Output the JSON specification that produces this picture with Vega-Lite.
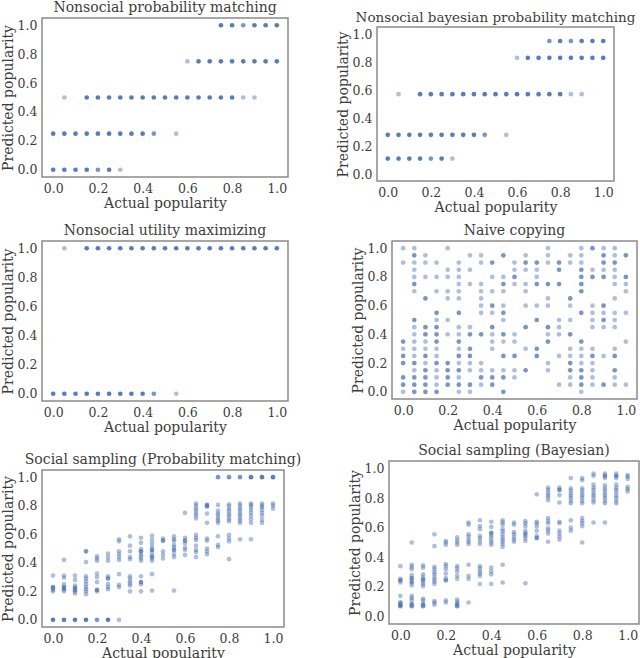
{
"$schema": "https://vega.github.io/schema/vega-lite/v6.json",
"padding": 0,
"background": "white",
"config": {
  "font": "DejaVu Serif",
  "view": {"stroke": "#8a8a8a", "strokeWidth": 1.5},
  "axis": {"grid": false, "ticks": false, "tickSize": 0, "domain": false, "labelFont": "DejaVu Serif", "labelFontSize": 12.5, "labelColor": "#3d3d3d", "titleFont": "DejaVu Serif", "titleFontSize": 14, "titleFontWeight": "normal", "titleColor": "#3d3d3d"},
  "axisX": {"labelPadding": 5, "titlePadding": 2},
  "axisY": {"labelPadding": 5, "titlePadding": 2},
  "title": {"font": "DejaVu Serif", "fontSize": 14, "fontWeight": "normal", "color": "#3d3d3d", "offset": 3, "frame": "group", "anchor": "middle"},
  "point": {"filled": true, "size": 22, "color": "#4c72b0", "strokeWidth": 0}
},
"datasets": {
"p1": [
{"x":0.75,"y":1,"n":3},{"x":0.8,"y":1,"n":3},{"x":0.85,"y":1,"n":2},{"x":0.9,"y":1,"n":3},{"x":0.95,"y":1,"n":3},{"x":1,"y":1,"n":3},
{"x":0.6,"y":0.75,"n":1},{"x":0.65,"y":0.75,"n":3},{"x":0.7,"y":0.75,"n":3},{"x":0.75,"y":0.75,"n":3},{"x":0.8,"y":0.75,"n":3},{"x":0.85,"y":0.75,"n":3},{"x":0.9,"y":0.75,"n":3},{"x":0.95,"y":0.75,"n":3},{"x":1,"y":0.75,"n":3},
{"x":0.05,"y":0.5,"n":1},{"x":0.15,"y":0.5,"n":3},{"x":0.2,"y":0.5,"n":3},{"x":0.25,"y":0.5,"n":3},{"x":0.3,"y":0.5,"n":3},{"x":0.35,"y":0.5,"n":3},{"x":0.4,"y":0.5,"n":3},{"x":0.45,"y":0.5,"n":3},{"x":0.5,"y":0.5,"n":3},{"x":0.55,"y":0.5,"n":3},{"x":0.6,"y":0.5,"n":3},{"x":0.65,"y":0.5,"n":3},{"x":0.7,"y":0.5,"n":3},{"x":0.75,"y":0.5,"n":3},{"x":0.8,"y":0.5,"n":3},{"x":0.85,"y":0.5,"n":1},{"x":0.9,"y":0.5,"n":1},
{"x":0,"y":0.25,"n":3},{"x":0.05,"y":0.25,"n":3},{"x":0.1,"y":0.25,"n":3},{"x":0.15,"y":0.25,"n":3},{"x":0.2,"y":0.25,"n":3},{"x":0.25,"y":0.25,"n":3},{"x":0.3,"y":0.25,"n":3},{"x":0.35,"y":0.25,"n":3},{"x":0.4,"y":0.25,"n":3},{"x":0.45,"y":0.25,"n":2},{"x":0.55,"y":0.25,"n":1},
{"x":0,"y":0,"n":3},{"x":0.05,"y":0,"n":3},{"x":0.1,"y":0,"n":3},{"x":0.15,"y":0,"n":3},{"x":0.2,"y":0,"n":2},{"x":0.25,"y":0,"n":3},{"x":0.3,"y":0,"n":1}
],
"p2": [
{"x":0.75,"y":0.95,"n":2},{"x":0.8,"y":0.95,"n":3},{"x":0.85,"y":0.95,"n":2},{"x":0.9,"y":0.95,"n":3},{"x":0.95,"y":0.95,"n":3},{"x":1,"y":0.95,"n":3},
{"x":0.6,"y":0.83,"n":1},{"x":0.65,"y":0.83,"n":3},{"x":0.7,"y":0.83,"n":3},{"x":0.75,"y":0.83,"n":3},{"x":0.8,"y":0.83,"n":3},{"x":0.85,"y":0.83,"n":3},{"x":0.9,"y":0.83,"n":3},{"x":0.95,"y":0.83,"n":3},{"x":1,"y":0.83,"n":3},
{"x":0.05,"y":0.57,"n":1},{"x":0.15,"y":0.57,"n":3},{"x":0.2,"y":0.57,"n":3},{"x":0.25,"y":0.57,"n":3},{"x":0.3,"y":0.57,"n":3},{"x":0.35,"y":0.57,"n":3},{"x":0.4,"y":0.57,"n":3},{"x":0.45,"y":0.57,"n":3},{"x":0.5,"y":0.57,"n":3},{"x":0.55,"y":0.57,"n":3},{"x":0.6,"y":0.57,"n":3},{"x":0.65,"y":0.57,"n":3},{"x":0.7,"y":0.57,"n":3},{"x":0.75,"y":0.57,"n":3},{"x":0.8,"y":0.57,"n":3},{"x":0.85,"y":0.57,"n":1},{"x":0.9,"y":0.57,"n":1},
{"x":0,"y":0.28,"n":3},{"x":0.05,"y":0.28,"n":3},{"x":0.1,"y":0.28,"n":3},{"x":0.15,"y":0.28,"n":3},{"x":0.2,"y":0.28,"n":3},{"x":0.25,"y":0.28,"n":3},{"x":0.3,"y":0.28,"n":3},{"x":0.35,"y":0.28,"n":3},{"x":0.4,"y":0.28,"n":3},{"x":0.45,"y":0.28,"n":2},{"x":0.55,"y":0.28,"n":1},
{"x":0,"y":0.11,"n":3},{"x":0.05,"y":0.11,"n":3},{"x":0.1,"y":0.11,"n":3},{"x":0.15,"y":0.11,"n":3},{"x":0.2,"y":0.11,"n":2},{"x":0.25,"y":0.11,"n":3},{"x":0.3,"y":0.11,"n":1}
],
"p3": [
{"x":0.05,"y":1,"n":1},{"x":0.15,"y":1,"n":3},{"x":0.2,"y":1,"n":3},{"x":0.25,"y":1,"n":3},{"x":0.3,"y":1,"n":3},{"x":0.35,"y":1,"n":3},{"x":0.4,"y":1,"n":3},{"x":0.45,"y":1,"n":3},{"x":0.5,"y":1,"n":3},{"x":0.55,"y":1,"n":3},{"x":0.6,"y":1,"n":3},{"x":0.65,"y":1,"n":3},{"x":0.7,"y":1,"n":3},{"x":0.75,"y":1,"n":3},{"x":0.8,"y":1,"n":3},{"x":0.85,"y":1,"n":3},{"x":0.9,"y":1,"n":3},{"x":0.95,"y":1,"n":3},{"x":1,"y":1,"n":3},
{"x":0,"y":0,"n":3},{"x":0.05,"y":0,"n":3},{"x":0.1,"y":0,"n":3},{"x":0.15,"y":0,"n":3},{"x":0.2,"y":0,"n":3},{"x":0.25,"y":0,"n":3},{"x":0.3,"y":0,"n":3},{"x":0.35,"y":0,"n":3},{"x":0.4,"y":0,"n":3},{"x":0.45,"y":0,"n":2},{"x":0.55,"y":0,"n":1}
],
"p4": [
{"x":0,"y":1,"n":1},{"x":0.05,"y":1,"n":1},{"x":0.2,"y":1,"n":1},{"x":0.65,"y":1,"n":1},{"x":0.8,"y":1,"n":1},{"x":0.85,"y":1,"n":2},{"x":0.9,"y":1,"n":1},{"x":0.95,"y":1,"n":1},
{"x":0.05,"y":0.95,"n":2},{"x":0.1,"y":0.95,"n":1},{"x":0.3,"y":0.95,"n":1},{"x":0.35,"y":0.95,"n":1},{"x":0.45,"y":0.95,"n":2},{"x":0.55,"y":0.95,"n":1},{"x":0.65,"y":0.95,"n":1},{"x":0.75,"y":0.95,"n":1},{"x":0.8,"y":0.95,"n":1},{"x":0.9,"y":0.95,"n":2},{"x":0.95,"y":0.95,"n":1},{"x":1,"y":0.95,"n":2},
{"x":0,"y":0.9,"n":1},{"x":0.05,"y":0.9,"n":1},{"x":0.1,"y":0.9,"n":1},{"x":0.15,"y":0.9,"n":1},{"x":0.25,"y":0.9,"n":1},{"x":0.35,"y":0.9,"n":1},{"x":0.4,"y":0.9,"n":2},{"x":0.5,"y":0.9,"n":1},{"x":0.55,"y":0.9,"n":2},{"x":0.6,"y":0.9,"n":2},{"x":0.65,"y":0.9,"n":1},{"x":0.7,"y":0.9,"n":2},{"x":0.75,"y":0.9,"n":1},{"x":0.8,"y":0.9,"n":1},{"x":0.9,"y":0.9,"n":2},{"x":0.95,"y":0.9,"n":2},
{"x":0.05,"y":0.85,"n":1},{"x":0.2,"y":0.85,"n":1},{"x":0.25,"y":0.85,"n":1},{"x":0.3,"y":0.85,"n":1},{"x":0.5,"y":0.85,"n":1},{"x":0.55,"y":0.85,"n":1},{"x":0.6,"y":0.85,"n":1},{"x":0.7,"y":0.85,"n":2},{"x":0.8,"y":0.85,"n":2},{"x":0.85,"y":0.85,"n":1},{"x":0.9,"y":0.85,"n":1},{"x":0.95,"y":0.85,"n":1},
{"x":0.05,"y":0.8,"n":1},{"x":0.1,"y":0.8,"n":1},{"x":0.15,"y":0.8,"n":1},{"x":0.2,"y":0.8,"n":1},{"x":0.25,"y":0.8,"n":1},{"x":0.4,"y":0.8,"n":1},{"x":0.45,"y":0.8,"n":1},{"x":0.5,"y":0.8,"n":2},{"x":0.6,"y":0.8,"n":1},{"x":0.8,"y":0.8,"n":2},{"x":0.85,"y":0.8,"n":2},{"x":0.9,"y":0.8,"n":2},{"x":0.95,"y":0.8,"n":1},{"x":1,"y":0.8,"n":2},
{"x":0.05,"y":0.75,"n":2},{"x":0.25,"y":0.75,"n":1},{"x":0.3,"y":0.75,"n":1},{"x":0.35,"y":0.75,"n":1},{"x":0.45,"y":0.75,"n":2},{"x":0.5,"y":0.75,"n":1},{"x":0.55,"y":0.75,"n":1},{"x":0.6,"y":0.75,"n":2},{"x":0.65,"y":0.75,"n":2},{"x":0.7,"y":0.75,"n":2},{"x":0.8,"y":0.75,"n":2},{"x":0.95,"y":0.75,"n":1},{"x":1,"y":0.75,"n":1},
{"x":0.05,"y":0.7,"n":1},{"x":0.15,"y":0.7,"n":1},{"x":0.2,"y":0.7,"n":1},{"x":0.25,"y":0.7,"n":1},{"x":0.35,"y":0.7,"n":1},{"x":0.4,"y":0.7,"n":1},{"x":0.45,"y":0.7,"n":1},{"x":0.55,"y":0.7,"n":1},{"x":0.8,"y":0.7,"n":2},{"x":1,"y":0.7,"n":1},
{"x":0.1,"y":0.65,"n":2},{"x":0.2,"y":0.65,"n":1},{"x":0.25,"y":0.65,"n":1},{"x":0.35,"y":0.65,"n":1},{"x":0.65,"y":0.65,"n":1},{"x":0.75,"y":0.65,"n":2},{"x":0.95,"y":0.65,"n":1},
{"x":0.35,"y":0.6,"n":1},{"x":0.4,"y":0.6,"n":2},{"x":0.45,"y":0.6,"n":1},{"x":0.55,"y":0.6,"n":1},{"x":0.6,"y":0.6,"n":1},{"x":0.65,"y":0.6,"n":1},{"x":0.75,"y":0.6,"n":1},{"x":0.85,"y":0.6,"n":1},{"x":0.9,"y":0.6,"n":2},
{"x":0.15,"y":0.55,"n":2},{"x":0.25,"y":0.55,"n":2},{"x":0.35,"y":0.55,"n":1},{"x":0.4,"y":0.55,"n":1},{"x":0.45,"y":0.55,"n":2},{"x":0.8,"y":0.55,"n":2},{"x":0.85,"y":0.55,"n":1},{"x":0.9,"y":0.55,"n":1},{"x":0.95,"y":0.55,"n":1},{"x":1,"y":0.55,"n":1},
{"x":0.05,"y":0.5,"n":2},{"x":0.15,"y":0.5,"n":1},{"x":0.2,"y":0.5,"n":1},{"x":0.45,"y":0.5,"n":1},{"x":0.6,"y":0.5,"n":2},{"x":0.7,"y":0.5,"n":1},{"x":0.75,"y":0.5,"n":1},{"x":0.85,"y":0.5,"n":1},{"x":0.9,"y":0.5,"n":2},{"x":0.95,"y":0.5,"n":1},
{"x":0.05,"y":0.45,"n":1},{"x":0.1,"y":0.45,"n":2},{"x":0.15,"y":0.45,"n":2},{"x":0.25,"y":0.45,"n":1},{"x":0.3,"y":0.45,"n":1},{"x":0.4,"y":0.45,"n":2},{"x":0.55,"y":0.45,"n":2},{"x":0.65,"y":0.45,"n":2},{"x":0.7,"y":0.45,"n":1},{"x":0.85,"y":0.45,"n":1},{"x":0.9,"y":0.45,"n":1},{"x":0.95,"y":0.45,"n":1},
{"x":0.05,"y":0.4,"n":1},{"x":0.1,"y":0.4,"n":2},{"x":0.15,"y":0.4,"n":2},{"x":0.2,"y":0.4,"n":1},{"x":0.25,"y":0.4,"n":1},{"x":0.3,"y":0.4,"n":2},{"x":0.35,"y":0.4,"n":2},{"x":0.4,"y":0.4,"n":1},{"x":0.45,"y":0.4,"n":2},{"x":0.5,"y":0.4,"n":1},{"x":0.65,"y":0.4,"n":1},{"x":0.7,"y":0.4,"n":1},{"x":0.75,"y":0.4,"n":2},
{"x":0,"y":0.35,"n":2},{"x":0.05,"y":0.35,"n":1},{"x":0.1,"y":0.35,"n":1},{"x":0.15,"y":0.35,"n":2},{"x":0.25,"y":0.35,"n":2},{"x":0.4,"y":0.35,"n":1},{"x":0.45,"y":0.35,"n":1},{"x":0.5,"y":0.35,"n":1},{"x":0.65,"y":0.35,"n":2},{"x":0.8,"y":0.35,"n":2},{"x":1,"y":0.35,"n":1},
{"x":0,"y":0.3,"n":1},{"x":0.05,"y":0.3,"n":1},{"x":0.1,"y":0.3,"n":1},{"x":0.15,"y":0.3,"n":1},{"x":0.25,"y":0.3,"n":1},{"x":0.3,"y":0.3,"n":2},{"x":0.4,"y":0.3,"n":1},{"x":0.55,"y":0.3,"n":1},{"x":0.6,"y":0.3,"n":2},{"x":0.75,"y":0.3,"n":1},{"x":0.8,"y":0.3,"n":1},{"x":0.85,"y":0.3,"n":1},{"x":0.95,"y":0.3,"n":1},
{"x":0,"y":0.25,"n":2},{"x":0.05,"y":0.25,"n":1},{"x":0.1,"y":0.25,"n":2},{"x":0.15,"y":0.25,"n":1},{"x":0.25,"y":0.25,"n":2},{"x":0.3,"y":0.25,"n":2},{"x":0.45,"y":0.25,"n":2},{"x":0.5,"y":0.25,"n":2},{"x":0.6,"y":0.25,"n":2},{"x":0.7,"y":0.25,"n":1},{"x":0.75,"y":0.25,"n":1},{"x":0.8,"y":0.25,"n":1},{"x":0.85,"y":0.25,"n":2},{"x":0.9,"y":0.25,"n":1},{"x":0.95,"y":0.25,"n":2},
{"x":0,"y":0.2,"n":2},{"x":0.05,"y":0.2,"n":2},{"x":0.1,"y":0.2,"n":1},{"x":0.15,"y":0.2,"n":2},{"x":0.2,"y":0.2,"n":2},{"x":0.25,"y":0.2,"n":1},{"x":0.3,"y":0.2,"n":1},{"x":0.35,"y":0.2,"n":1},{"x":0.65,"y":0.2,"n":1},{"x":0.75,"y":0.2,"n":2},{"x":0.8,"y":0.2,"n":1},{"x":0.85,"y":0.2,"n":1},
{"x":0.05,"y":0.15,"n":1},{"x":0.1,"y":0.15,"n":2},{"x":0.15,"y":0.15,"n":1},{"x":0.2,"y":0.15,"n":2},{"x":0.25,"y":0.15,"n":2},{"x":0.3,"y":0.15,"n":1},{"x":0.35,"y":0.15,"n":1},{"x":0.4,"y":0.15,"n":1},{"x":0.45,"y":0.15,"n":1},{"x":0.5,"y":0.15,"n":1},{"x":0.55,"y":0.15,"n":2},{"x":0.65,"y":0.15,"n":1},{"x":0.75,"y":0.15,"n":2},{"x":0.8,"y":0.15,"n":2},{"x":0.85,"y":0.15,"n":1},{"x":0.95,"y":0.15,"n":2},
{"x":0,"y":0.1,"n":2},{"x":0.05,"y":0.1,"n":2},{"x":0.1,"y":0.1,"n":2},{"x":0.15,"y":0.1,"n":1},{"x":0.2,"y":0.1,"n":2},{"x":0.25,"y":0.1,"n":1},{"x":0.35,"y":0.1,"n":2},{"x":0.4,"y":0.1,"n":2},{"x":0.45,"y":0.1,"n":2},{"x":0.5,"y":0.1,"n":1},{"x":0.75,"y":0.1,"n":1},{"x":0.8,"y":0.1,"n":2},{"x":0.85,"y":0.1,"n":1},{"x":0.95,"y":0.1,"n":1},
{"x":0,"y":0.05,"n":2},{"x":0.05,"y":0.05,"n":2},{"x":0.1,"y":0.05,"n":2},{"x":0.15,"y":0.05,"n":1},{"x":0.2,"y":0.05,"n":2},{"x":0.25,"y":0.05,"n":2},{"x":0.3,"y":0.05,"n":2},{"x":0.35,"y":0.05,"n":1},{"x":0.4,"y":0.05,"n":2},{"x":0.7,"y":0.05,"n":1},{"x":0.75,"y":0.05,"n":1},{"x":0.8,"y":0.05,"n":2},{"x":0.85,"y":0.05,"n":1},{"x":0.9,"y":0.05,"n":2},{"x":0.95,"y":0.05,"n":1},{"x":1,"y":0.05,"n":1},
{"x":0,"y":0,"n":1},{"x":0.05,"y":0,"n":2},{"x":0.1,"y":0,"n":2},{"x":0.15,"y":0,"n":2},{"x":0.25,"y":0,"n":1},{"x":0.3,"y":0,"n":1},{"x":0.45,"y":0,"n":2},{"x":0.8,"y":0,"n":1}
],
"p5": [
{"x":0,"y":0.31,"n":1},{"x":0,"y":0.23,"n":2},{"x":0,"y":0.22,"n":1},{"x":0,"y":0.21,"n":1},{"x":0,"y":0.2,"n":1},{"x":0,"y":0,"n":3},
{"x":0.05,"y":0.42,"n":1},{"x":0.05,"y":0.31,"n":1},{"x":0.05,"y":0.295,"n":1},{"x":0.05,"y":0.25,"n":1},{"x":0.05,"y":0.23,"n":2},{"x":0.05,"y":0.215,"n":2},{"x":0.05,"y":0.2,"n":1},{"x":0.05,"y":0,"n":3},
{"x":0.1,"y":0.31,"n":1},{"x":0.1,"y":0.28,"n":1},{"x":0.1,"y":0.24,"n":1},{"x":0.1,"y":0.225,"n":2},{"x":0.1,"y":0.21,"n":2},{"x":0.1,"y":0.2,"n":1},{"x":0.1,"y":0.185,"n":1},{"x":0.1,"y":0,"n":3},
{"x":0.15,"y":0.48,"n":2},{"x":0.15,"y":0.405,"n":1},{"x":0.15,"y":0.305,"n":1},{"x":0.15,"y":0.29,"n":1},{"x":0.15,"y":0.27,"n":1},{"x":0.15,"y":0.25,"n":1},{"x":0.15,"y":0.23,"n":1},{"x":0.15,"y":0.215,"n":1},{"x":0.15,"y":0.2,"n":1},{"x":0.15,"y":0.18,"n":1},{"x":0.15,"y":0,"n":3},
{"x":0.2,"y":0.445,"n":1},{"x":0.2,"y":0.43,"n":1},{"x":0.2,"y":0.415,"n":1},{"x":0.2,"y":0.325,"n":1},{"x":0.2,"y":0.3,"n":1},{"x":0.2,"y":0.265,"n":1},{"x":0.2,"y":0.21,"n":2},{"x":0.2,"y":0.2,"n":1},{"x":0.2,"y":0,"n":2},
{"x":0.25,"y":0.465,"n":1},{"x":0.25,"y":0.44,"n":1},{"x":0.25,"y":0.415,"n":1},{"x":0.25,"y":0.305,"n":1},{"x":0.25,"y":0.29,"n":2},{"x":0.25,"y":0.25,"n":1},{"x":0.25,"y":0.23,"n":1},{"x":0.25,"y":0.215,"n":1},{"x":0.25,"y":0,"n":3},
{"x":0.3,"y":0.565,"n":1},{"x":0.3,"y":0.55,"n":1},{"x":0.3,"y":0.48,"n":1},{"x":0.3,"y":0.46,"n":1},{"x":0.3,"y":0.44,"n":1},{"x":0.3,"y":0.42,"n":1},{"x":0.3,"y":0.32,"n":1},{"x":0.3,"y":0.245,"n":1},{"x":0.3,"y":0.23,"n":1},{"x":0.3,"y":0,"n":1},
{"x":0.35,"y":0.585,"n":1},{"x":0.35,"y":0.52,"n":1},{"x":0.35,"y":0.48,"n":1},{"x":0.35,"y":0.44,"n":1},{"x":0.35,"y":0.425,"n":1},{"x":0.35,"y":0.305,"n":1},{"x":0.35,"y":0.29,"n":1},{"x":0.35,"y":0.27,"n":1},{"x":0.35,"y":0.255,"n":1},{"x":0.35,"y":0.24,"n":1},{"x":0.35,"y":0.2,"n":1},
{"x":0.4,"y":0.575,"n":1},{"x":0.4,"y":0.54,"n":1},{"x":0.4,"y":0.495,"n":1},{"x":0.4,"y":0.48,"n":2},{"x":0.4,"y":0.46,"n":1},{"x":0.4,"y":0.445,"n":1},{"x":0.4,"y":0.43,"n":1},{"x":0.4,"y":0.415,"n":1},{"x":0.4,"y":0.305,"n":1},{"x":0.4,"y":0.265,"n":2},{"x":0.4,"y":0.25,"n":1},{"x":0.4,"y":0.2,"n":1},
{"x":0.45,"y":0.59,"n":1},{"x":0.45,"y":0.56,"n":1},{"x":0.45,"y":0.535,"n":1},{"x":0.45,"y":0.51,"n":1},{"x":0.45,"y":0.49,"n":2},{"x":0.45,"y":0.47,"n":1},{"x":0.45,"y":0.445,"n":2},{"x":0.45,"y":0.43,"n":1},{"x":0.45,"y":0.415,"n":1},{"x":0.45,"y":0.32,"n":1},{"x":0.45,"y":0.205,"n":1},
{"x":0.5,"y":0.57,"n":1},{"x":0.5,"y":0.555,"n":2},{"x":0.5,"y":0.48,"n":1},{"x":0.5,"y":0.455,"n":1},{"x":0.5,"y":0.43,"n":1},
{"x":0.55,"y":0.585,"n":1},{"x":0.55,"y":0.565,"n":1},{"x":0.55,"y":0.555,"n":1},{"x":0.55,"y":0.525,"n":1},{"x":0.55,"y":0.51,"n":1},{"x":0.55,"y":0.49,"n":2},{"x":0.55,"y":0.46,"n":1},{"x":0.55,"y":0.44,"n":1},{"x":0.55,"y":0.205,"n":1},
{"x":0.6,"y":0.75,"n":1},{"x":0.6,"y":0.575,"n":1},{"x":0.6,"y":0.555,"n":2},{"x":0.6,"y":0.535,"n":1},{"x":0.6,"y":0.505,"n":1},{"x":0.6,"y":0.49,"n":1},{"x":0.6,"y":0.455,"n":1},
{"x":0.65,"y":0.815,"n":1},{"x":0.65,"y":0.8,"n":1},{"x":0.65,"y":0.78,"n":1},{"x":0.65,"y":0.765,"n":1},{"x":0.65,"y":0.745,"n":1},{"x":0.65,"y":0.73,"n":1},{"x":0.65,"y":0.71,"n":1},{"x":0.65,"y":0.595,"n":1},{"x":0.65,"y":0.575,"n":1},{"x":0.65,"y":0.56,"n":1},{"x":0.65,"y":0.52,"n":1},{"x":0.65,"y":0.49,"n":1},{"x":0.65,"y":0.475,"n":1},{"x":0.65,"y":0.44,"n":1},
{"x":0.7,"y":0.805,"n":2},{"x":0.7,"y":0.795,"n":2},{"x":0.7,"y":0.745,"n":1},{"x":0.7,"y":0.68,"n":1},{"x":0.7,"y":0.57,"n":1},{"x":0.7,"y":0.555,"n":1},{"x":0.7,"y":0.5,"n":1},{"x":0.7,"y":0.48,"n":1},{"x":0.7,"y":0.46,"n":1},
{"x":0.75,"y":1,"n":2},{"x":0.75,"y":0.805,"n":1},{"x":0.75,"y":0.765,"n":1},{"x":0.75,"y":0.745,"n":1},{"x":0.75,"y":0.73,"n":1},{"x":0.75,"y":0.71,"n":1},{"x":0.75,"y":0.695,"n":1},{"x":0.75,"y":0.68,"n":1},{"x":0.75,"y":0.585,"n":1},{"x":0.75,"y":0.525,"n":1},{"x":0.75,"y":0.51,"n":1},
{"x":0.8,"y":1,"n":2},{"x":0.8,"y":0.81,"n":1},{"x":0.8,"y":0.795,"n":1},{"x":0.8,"y":0.775,"n":1},{"x":0.8,"y":0.76,"n":1},{"x":0.8,"y":0.74,"n":1},{"x":0.8,"y":0.725,"n":1},{"x":0.8,"y":0.705,"n":1},{"x":0.8,"y":0.69,"n":1},{"x":0.8,"y":0.595,"n":1},{"x":0.8,"y":0.57,"n":1},{"x":0.8,"y":0.55,"n":1},{"x":0.8,"y":0.425,"n":1},
{"x":0.85,"y":1,"n":2},{"x":0.85,"y":0.815,"n":1},{"x":0.85,"y":0.8,"n":1},{"x":0.85,"y":0.78,"n":1},{"x":0.85,"y":0.765,"n":1},{"x":0.85,"y":0.745,"n":1},{"x":0.85,"y":0.73,"n":1},{"x":0.85,"y":0.71,"n":1},{"x":0.85,"y":0.695,"n":1},{"x":0.85,"y":0.68,"n":1},{"x":0.85,"y":0.565,"n":1},
{"x":0.9,"y":1,"n":3},{"x":0.9,"y":0.815,"n":1},{"x":0.9,"y":0.805,"n":1},{"x":0.9,"y":0.79,"n":1},{"x":0.9,"y":0.77,"n":1},{"x":0.9,"y":0.75,"n":1},{"x":0.9,"y":0.73,"n":1},{"x":0.9,"y":0.705,"n":1},{"x":0.9,"y":0.68,"n":1},{"x":0.9,"y":0.565,"n":1},
{"x":0.95,"y":1,"n":3},{"x":0.95,"y":0.815,"n":1},{"x":0.95,"y":0.8,"n":1},{"x":0.95,"y":0.79,"n":1},{"x":0.95,"y":0.77,"n":1},{"x":0.95,"y":0.75,"n":1},{"x":0.95,"y":0.73,"n":1},{"x":0.95,"y":0.7,"n":1},{"x":0.95,"y":0.68,"n":1},
{"x":1,"y":1,"n":3},{"x":1,"y":0.815,"n":1},{"x":1,"y":0.8,"n":1},{"x":1,"y":0.78,"n":1}
],
"p6": [
{"x":0,"y":0.34,"n":1},{"x":0,"y":0.255,"n":1},{"x":0,"y":0.245,"n":2},{"x":0,"y":0.23,"n":1},{"x":0,"y":0.14,"n":1},{"x":0,"y":0.095,"n":2},{"x":0,"y":0.08,"n":2},{"x":0,"y":0.07,"n":2},
{"x":0.05,"y":0.5,"n":1},{"x":0.05,"y":0.35,"n":1},{"x":0.05,"y":0.335,"n":1},{"x":0.05,"y":0.32,"n":1},{"x":0.05,"y":0.28,"n":1},{"x":0.05,"y":0.26,"n":2},{"x":0.05,"y":0.245,"n":1},{"x":0.05,"y":0.23,"n":2},{"x":0.05,"y":0.21,"n":1},{"x":0.05,"y":0.14,"n":1},{"x":0.05,"y":0.125,"n":1},{"x":0.05,"y":0.11,"n":1},{"x":0.05,"y":0.085,"n":2},{"x":0.05,"y":0.07,"n":2},
{"x":0.1,"y":0.345,"n":1},{"x":0.1,"y":0.33,"n":1},{"x":0.1,"y":0.285,"n":1},{"x":0.1,"y":0.265,"n":1},{"x":0.1,"y":0.25,"n":2},{"x":0.1,"y":0.235,"n":1},{"x":0.1,"y":0.22,"n":1},{"x":0.1,"y":0.205,"n":1},{"x":0.1,"y":0.12,"n":1},{"x":0.1,"y":0.11,"n":1},{"x":0.1,"y":0.085,"n":2},{"x":0.1,"y":0.07,"n":2},
{"x":0.15,"y":0.555,"n":1},{"x":0.15,"y":0.475,"n":1},{"x":0.15,"y":0.335,"n":1},{"x":0.15,"y":0.32,"n":1},{"x":0.15,"y":0.3,"n":1},{"x":0.15,"y":0.285,"n":1},{"x":0.15,"y":0.265,"n":1},{"x":0.15,"y":0.25,"n":1},{"x":0.15,"y":0.235,"n":1},{"x":0.15,"y":0.22,"n":1},{"x":0.15,"y":0.105,"n":1},{"x":0.15,"y":0.095,"n":1},{"x":0.15,"y":0.08,"n":1},
{"x":0.2,"y":0.51,"n":1},{"x":0.2,"y":0.5,"n":1},{"x":0.2,"y":0.485,"n":1},{"x":0.2,"y":0.355,"n":1},{"x":0.2,"y":0.34,"n":1},{"x":0.2,"y":0.32,"n":1},{"x":0.2,"y":0.29,"n":1},{"x":0.2,"y":0.26,"n":1},{"x":0.2,"y":0.245,"n":2},{"x":0.2,"y":0.11,"n":1},{"x":0.2,"y":0.095,"n":1},
{"x":0.25,"y":0.535,"n":1},{"x":0.25,"y":0.515,"n":1},{"x":0.25,"y":0.5,"n":1},{"x":0.25,"y":0.485,"n":1},{"x":0.25,"y":0.34,"n":1},{"x":0.25,"y":0.325,"n":1},{"x":0.25,"y":0.305,"n":1},{"x":0.25,"y":0.275,"n":1},{"x":0.25,"y":0.255,"n":1},{"x":0.25,"y":0.115,"n":1},{"x":0.25,"y":0.1,"n":1},{"x":0.25,"y":0.085,"n":2},{"x":0.25,"y":0.07,"n":2},
{"x":0.3,"y":0.635,"n":1},{"x":0.3,"y":0.62,"n":1},{"x":0.3,"y":0.555,"n":1},{"x":0.3,"y":0.54,"n":1},{"x":0.3,"y":0.52,"n":1},{"x":0.3,"y":0.505,"n":1},{"x":0.3,"y":0.49,"n":1},{"x":0.3,"y":0.35,"n":1},{"x":0.3,"y":0.275,"n":1},{"x":0.3,"y":0.255,"n":1},{"x":0.3,"y":0.095,"n":1},
{"x":0.35,"y":0.65,"n":1},{"x":0.35,"y":0.61,"n":1},{"x":0.35,"y":0.59,"n":1},{"x":0.35,"y":0.545,"n":1},{"x":0.35,"y":0.53,"n":1},{"x":0.35,"y":0.51,"n":1},{"x":0.35,"y":0.49,"n":1},{"x":0.35,"y":0.34,"n":1},{"x":0.35,"y":0.325,"n":1},{"x":0.35,"y":0.305,"n":1},{"x":0.35,"y":0.29,"n":1},{"x":0.35,"y":0.275,"n":1},{"x":0.35,"y":0.22,"n":1},
{"x":0.4,"y":0.64,"n":1},{"x":0.4,"y":0.605,"n":1},{"x":0.4,"y":0.565,"n":2},{"x":0.4,"y":0.55,"n":1},{"x":0.4,"y":0.535,"n":1},{"x":0.4,"y":0.515,"n":1},{"x":0.4,"y":0.5,"n":1},{"x":0.4,"y":0.485,"n":1},{"x":0.4,"y":0.33,"n":1},{"x":0.4,"y":0.305,"n":1},{"x":0.4,"y":0.285,"n":1},{"x":0.4,"y":0.22,"n":1},
{"x":0.45,"y":0.65,"n":1},{"x":0.45,"y":0.635,"n":1},{"x":0.45,"y":0.62,"n":1},{"x":0.45,"y":0.59,"n":1},{"x":0.45,"y":0.575,"n":1},{"x":0.45,"y":0.555,"n":1},{"x":0.45,"y":0.535,"n":1},{"x":0.45,"y":0.52,"n":1},{"x":0.45,"y":0.505,"n":1},{"x":0.45,"y":0.49,"n":1},{"x":0.45,"y":0.47,"n":1},{"x":0.45,"y":0.35,"n":1},{"x":0.45,"y":0.23,"n":1},
{"x":0.5,"y":0.635,"n":1},{"x":0.5,"y":0.62,"n":1},{"x":0.5,"y":0.57,"n":1},{"x":0.5,"y":0.555,"n":1},{"x":0.5,"y":0.535,"n":1},{"x":0.5,"y":0.52,"n":1},{"x":0.5,"y":0.505,"n":1},
{"x":0.55,"y":0.645,"n":1},{"x":0.55,"y":0.63,"n":1},{"x":0.55,"y":0.61,"n":1},{"x":0.55,"y":0.58,"n":1},{"x":0.55,"y":0.56,"n":2},{"x":0.55,"y":0.545,"n":1},{"x":0.55,"y":0.53,"n":1},{"x":0.55,"y":0.51,"n":1},{"x":0.55,"y":0.225,"n":1},
{"x":0.6,"y":0.825,"n":1},{"x":0.6,"y":0.64,"n":1},{"x":0.6,"y":0.63,"n":1},{"x":0.6,"y":0.61,"n":1},{"x":0.6,"y":0.58,"n":1},{"x":0.6,"y":0.545,"n":1},{"x":0.6,"y":0.53,"n":2},
{"x":0.65,"y":0.87,"n":1},{"x":0.65,"y":0.855,"n":1},{"x":0.65,"y":0.835,"n":1},{"x":0.65,"y":0.82,"n":1},{"x":0.65,"y":0.805,"n":1},{"x":0.65,"y":0.785,"n":1},{"x":0.65,"y":0.665,"n":1},{"x":0.65,"y":0.645,"n":1},{"x":0.65,"y":0.63,"n":1},{"x":0.65,"y":0.595,"n":1},{"x":0.65,"y":0.58,"n":1},{"x":0.65,"y":0.56,"n":1},{"x":0.65,"y":0.505,"n":1},
{"x":0.7,"y":0.87,"n":1},{"x":0.7,"y":0.855,"n":2},{"x":0.7,"y":0.82,"n":1},{"x":0.7,"y":0.77,"n":1},{"x":0.7,"y":0.64,"n":1},{"x":0.7,"y":0.63,"n":1},{"x":0.7,"y":0.58,"n":1},{"x":0.7,"y":0.56,"n":1},{"x":0.7,"y":0.54,"n":1},{"x":0.7,"y":0.52,"n":1},
{"x":0.75,"y":0.935,"n":1},{"x":0.75,"y":0.865,"n":1},{"x":0.75,"y":0.85,"n":1},{"x":0.75,"y":0.83,"n":1},{"x":0.75,"y":0.815,"n":1},{"x":0.75,"y":0.8,"n":1},{"x":0.75,"y":0.78,"n":1},{"x":0.75,"y":0.765,"n":1},{"x":0.75,"y":0.65,"n":1},{"x":0.75,"y":0.6,"n":1},{"x":0.75,"y":0.58,"n":1},
{"x":0.8,"y":0.935,"n":1},{"x":0.8,"y":0.92,"n":1},{"x":0.8,"y":0.865,"n":1},{"x":0.8,"y":0.85,"n":1},{"x":0.8,"y":0.83,"n":1},{"x":0.8,"y":0.815,"n":1},{"x":0.8,"y":0.8,"n":1},{"x":0.8,"y":0.78,"n":1},{"x":0.8,"y":0.765,"n":1},{"x":0.8,"y":0.665,"n":1},{"x":0.8,"y":0.645,"n":1},{"x":0.8,"y":0.63,"n":1},{"x":0.8,"y":0.61,"n":1},{"x":0.8,"y":0.5,"n":1},
{"x":0.85,"y":0.965,"n":1},{"x":0.85,"y":0.95,"n":1},{"x":0.85,"y":0.89,"n":1},{"x":0.85,"y":0.87,"n":1},{"x":0.85,"y":0.855,"n":1},{"x":0.85,"y":0.835,"n":1},{"x":0.85,"y":0.82,"n":1},{"x":0.85,"y":0.805,"n":1},{"x":0.85,"y":0.785,"n":1},{"x":0.85,"y":0.77,"n":1},{"x":0.85,"y":0.635,"n":1},
{"x":0.9,"y":0.965,"n":1},{"x":0.9,"y":0.95,"n":2},{"x":0.9,"y":0.935,"n":1},{"x":0.9,"y":0.885,"n":1},{"x":0.9,"y":0.865,"n":1},{"x":0.9,"y":0.85,"n":1},{"x":0.9,"y":0.83,"n":1},{"x":0.9,"y":0.815,"n":1},{"x":0.9,"y":0.8,"n":1},{"x":0.9,"y":0.78,"n":1},{"x":0.9,"y":0.765,"n":1},{"x":0.9,"y":0.635,"n":1},
{"x":0.95,"y":0.965,"n":1},{"x":0.95,"y":0.95,"n":2},{"x":0.95,"y":0.935,"n":1},{"x":0.95,"y":0.89,"n":1},{"x":0.95,"y":0.87,"n":1},{"x":0.95,"y":0.855,"n":1},{"x":0.95,"y":0.835,"n":1},{"x":0.95,"y":0.815,"n":1},{"x":0.95,"y":0.8,"n":1},{"x":0.95,"y":0.78,"n":1},{"x":0.95,"y":0.765,"n":1},
{"x":1,"y":0.955,"n":1},{"x":1,"y":0.945,"n":1},{"x":1,"y":0.93,"n":1},{"x":1,"y":0.875,"n":1},{"x":1,"y":0.86,"n":1},{"x":1,"y":0.845,"n":1}
]
},
"vconcat": [
  {"hconcat": [
    {"title": "Nonsocial probability matching", "width": 246, "height": 159, "data": {"name": "p1"}, "mark": "point",
     "encoding": {"x": {"field": "x", "type": "quantitative", "title": "Actual popularity", "scale": {"domain": [-0.05, 1.05], "nice": false, "zero": false}, "axis": {"values": [0, 0.2, 0.4, 0.6, 0.8, 1], "format": ".1f"}},
                  "y": {"field": "y", "type": "quantitative", "title": "Predicted popularity", "scale": {"domain": [-0.05, 1.05], "nice": false, "zero": false}, "axis": {"values": [0, 0.2, 0.4, 0.6, 0.8, 1], "format": ".1f"}},
                  "opacity": {"field": "n", "type": "quantitative", "scale": {"domain": [1, 2, 3], "range": [0.45, 0.75, 0.92]}, "legend": null}}},
    {"vconcat": [
      {"data": {"values": []}, "mark": "point", "encoding": {}, "width": 1, "height": 1, "view": {"stroke": null}},
      {"title": {"text": "Nonsocial bayesian probability matching", "fontSize": 13.5}, "width": 237, "height": 154, "data": {"name": "p2"}, "mark": "point",
       "encoding": {"x": {"field": "x", "type": "quantitative", "title": "Actual popularity", "scale": {"domain": [-0.05, 1.05], "nice": false, "zero": false}, "axis": {"values": [0, 0.2, 0.4, 0.6, 0.8, 1], "format": ".1f"}},
                    "y": {"field": "y", "type": "quantitative", "title": "Predicted popularity", "scale": {"domain": [-0.05, 1.05], "nice": false, "zero": false}, "axis": {"values": [0, 0.2, 0.4, 0.6, 0.8, 1], "format": ".1f"}},
                    "opacity": {"field": "n", "type": "quantitative", "scale": {"domain": [1, 2, 3], "range": [0.45, 0.75, 0.92]}, "legend": null}}}
    ], "spacing": -10}
  ], "spacing": 46},
  {"hconcat": [
    {"title": "Nonsocial utility maximizing", "width": 246, "height": 160, "data": {"name": "p3"}, "mark": "point",
     "encoding": {"x": {"field": "x", "type": "quantitative", "title": "Actual popularity", "scale": {"domain": [-0.05, 1.05], "nice": false, "zero": false}, "axis": {"values": [0, 0.2, 0.4, 0.6, 0.8, 1], "format": ".1f"}},
                  "y": {"field": "y", "type": "quantitative", "title": "Predicted popularity", "scale": {"domain": [-0.05, 1.05], "nice": false, "zero": false}, "axis": {"values": [0, 0.2, 0.4, 0.6, 0.8, 1], "format": ".1f"}},
                  "opacity": {"field": "n", "type": "quantitative", "scale": {"domain": [1, 2, 3], "range": [0.45, 0.75, 0.92]}, "legend": null}}},
    {"title": "Naive copying", "width": 245, "height": 158, "data": {"name": "p4"}, "mark": "point",
     "encoding": {"x": {"field": "x", "type": "quantitative", "title": "Actual popularity", "scale": {"domain": [-0.05, 1.05], "nice": false, "zero": false}, "axis": {"values": [0, 0.2, 0.4, 0.6, 0.8, 1], "format": ".1f"}},
                  "y": {"field": "y", "type": "quantitative", "title": "Predicted popularity", "scale": {"domain": [-0.05, 1.05], "nice": false, "zero": false}, "axis": {"values": [0, 0.2, 0.4, 0.6, 0.8, 1], "format": ".1f"}},
                  "opacity": {"field": "n", "type": "quantitative", "scale": {"domain": [1, 2, 3], "range": [0.45, 0.75, 0.92]}, "legend": null}}}
  ], "spacing": 61},
  {"hconcat": [
    {"vconcat": [
      {"data": {"values": []}, "mark": "point", "encoding": {}, "width": 1, "height": 1, "view": {"stroke": null}},
      {"title": "Social sampling (Probability matching)", "width": 242, "height": 157, "data": {"name": "p5"}, "mark": "point",
       "encoding": {"x": {"field": "x", "type": "quantitative", "title": "Actual popularity", "scale": {"domain": [-0.05, 1.05], "nice": false, "zero": false}, "axis": {"values": [0, 0.2, 0.4, 0.6, 0.8, 1], "format": ".1f"}},
                    "y": {"field": "y", "type": "quantitative", "title": "Predicted popularity", "scale": {"domain": [-0.05, 1.05], "nice": false, "zero": false}, "axis": {"values": [0, 0.2, 0.4, 0.6, 0.8, 1], "format": ".1f"}},
                    "opacity": {"field": "n", "type": "quantitative", "scale": {"domain": [1, 2, 3], "range": [0.45, 0.75, 0.92]}, "legend": null}}}
    ], "spacing": -10},
    {"title": "Social sampling (Bayesian)", "width": 250, "height": 163, "data": {"name": "p6"}, "mark": "point",
     "encoding": {"x": {"field": "x", "type": "quantitative", "title": "Actual popularity", "scale": {"domain": [-0.05, 1.05], "nice": false, "zero": false}, "axis": {"values": [0, 0.2, 0.4, 0.6, 0.8, 1], "format": ".1f"}},
                  "y": {"field": "y", "type": "quantitative", "title": "Predicted popularity", "scale": {"domain": [-0.05, 1.05], "nice": false, "zero": false}, "axis": {"values": [0, 0.2, 0.4, 0.6, 0.8, 1], "format": ".1f"}},
                  "opacity": {"field": "n", "type": "quantitative", "scale": {"domain": [1, 2, 3], "range": [0.45, 0.75, 0.92]}, "legend": null}}}
  ], "spacing": 45}
],
"spacing": 7
}
